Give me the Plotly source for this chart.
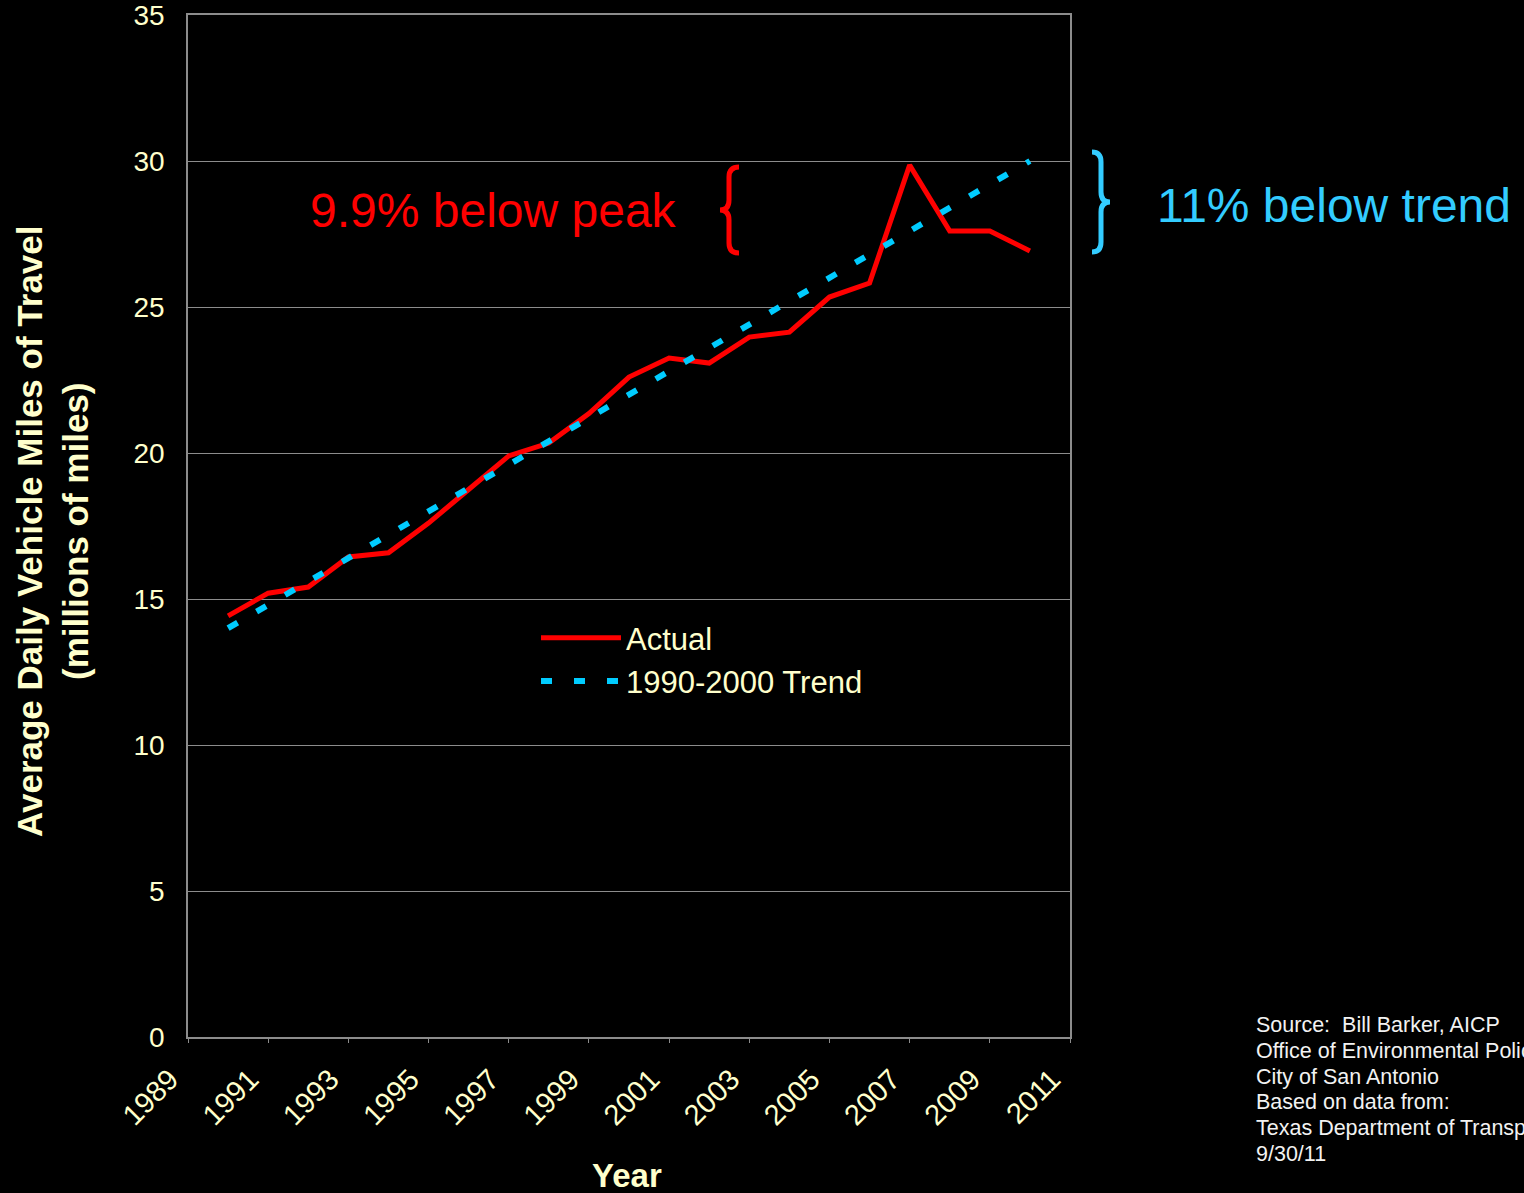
import plotly.graph_objects as go

# ---- data ----
years = list(range(1990, 2011))
actual = [14.42, 15.20, 15.41, 16.44, 16.58, 17.60, 18.75, 19.90, 20.34, 21.35,
          22.60, 23.25, 23.08, 23.97, 24.14, 25.34, 25.82, 29.86, 27.60, 27.60, 26.92]
trend = [14.0, 14.8, 15.6, 16.4, 17.2, 18.0, 18.8, 19.6, 20.4, 21.2,
         22.0, 22.8, 23.6, 24.4, 25.2, 26.0, 26.8, 27.6, 28.4, 29.2, 30.0]
x_tick_years = list(range(1989, 2012, 2))
y_ticks = [0, 5, 10, 15, 20, 25, 30, 35]
source_lines = ["Source:  Bill Barker, AICP", "Office of Environmental Policy",
                "City of San Antonio", "Based on data from:",
                "Texas Department of Transportation", "9/30/11"]

# ---- layout geometry (pixels) ----
W, H = 1524, 1193
L, R, T, B = 188, 1070, 15, 1037


def px(x):
    return (x - L) / (R - L)


def py(y):
    return (B - y) / (B - T)


CREAM = "#FFFFCC"
RED = "#FF0000"
CYAN = "#00CCFF"
CYAN_TXT = "#33CCFF"
GRID = "#8C8C8C"
FONT = "Liberation Sans, Arial, sans-serif"

fig = go.Figure()
fig.add_trace(go.Scatter(x=years, y=actual, mode="lines", name="Actual",
                         line=dict(color=RED, width=5)))
fig.add_trace(go.Scatter(x=years, y=trend, mode="lines", name="1990-2000 Trend",
                         line=dict(color=CYAN, width=6, dash="11px,22px")))

BRACE = ("M {a},{y0} Q {b},{y0} {b},{y1} L {b},{y2} Q {b},{ym} {c},{ym} "
         "Q {b},{ym} {b},{y3} L {b},{y4} Q {b},{y5} {a},{y5}")
red_path = BRACE.format(
    a=px(739), b=px(729), c=px(720),
    y0=py(167), y1=py(177), y2=py(200), ym=py(210), y3=py(220), y4=py(243), y5=py(253))
cyan_path = BRACE.format(
    a=px(1092), b=px(1101), c=px(1110),
    y0=py(152), y1=py(162), y2=py(192), ym=py(202), y3=py(212), y4=py(242), y5=py(252))

shapes = [
    dict(type="path", xref="paper", yref="paper", path=red_path,
         line=dict(color=RED, width=5)),
    dict(type="path", xref="paper", yref="paper", path=cyan_path,
         line=dict(color=CYAN_TXT, width=5)),
]

annotations = [
    dict(text="9.9% below peak", x=px(493), y=py(210), xref="paper", yref="paper",
         showarrow=False, xanchor="center", yanchor="middle",
         font=dict(family=FONT, size=48, color=RED)),
    dict(text="11% below trend", x=px(1155), y=py(205), xref="paper", yref="paper",
         showarrow=False, xanchor="left", yanchor="middle",
         font=dict(family=FONT, size=48, color=CYAN_TXT)),
    dict(text="<b>Average Daily Vehicle Miles of Travel</b><br><b>(millions of miles)</b>",
         x=px(52), y=py(531), xref="paper", yref="paper", textangle=-90,
         showarrow=False, xanchor="center", yanchor="middle",
         font=dict(family=FONT, size=35, color=CREAM)),
    dict(text="<b>Year</b>", x=px(627), y=py(1175), xref="paper", yref="paper",
         showarrow=False, xanchor="center", yanchor="middle",
         font=dict(family=FONT, size=33, color=CREAM)),
]
for i, line in enumerate(source_lines):
    annotations.append(
        dict(text=line, x=px(1254), y=py(1025 + 25.8 * i), xref="paper", yref="paper",
             showarrow=False, xanchor="left", yanchor="middle", align="left",
             font=dict(family=FONT, size=21.5, color="#F2F2F2")))

fig.update_layout(
    width=W, height=H,
    margin=dict(l=L, r=W - R, t=T, b=H - B, pad=0),
    paper_bgcolor="black", plot_bgcolor="black",
    font=dict(family=FONT, color=CREAM),
    showlegend=True,
    legend=dict(x=px(536), y=py(611), xanchor="left", yanchor="top",
                bgcolor="rgba(0,0,0,0)", font=dict(family=FONT, size=31, color=CREAM),
                itemwidth=80, tracegroupgap=0),
    shapes=shapes,
    annotations=annotations,
    xaxis=dict(range=[1989, 2011], tickmode="array", tickvals=x_tick_years,
               ticktext=[str(v) for v in x_tick_years], tickangle=-45,
               tickfont=dict(family=FONT, size=29, color=CREAM),
               showgrid=False, zeroline=False, showline=True, mirror=True,
               linecolor=GRID, linewidth=1.5, ticks="outside", ticklen=4,
               tickcolor=GRID, ticklabelshift=-18, ticklabelstandoff=8,
               automargin=False),
    yaxis=dict(range=[0, 35], tickmode="array", tickvals=y_ticks,
               tickfont=dict(family=FONT, size=28, color=CREAM),
               showgrid=True, gridcolor=GRID, gridwidth=1.2, zeroline=False,
               showline=True, mirror=True, linecolor=GRID, linewidth=1.5,
               ticks="", ticklabelstandoff=16, ticklabeloverflow="allow",
               automargin=False),
)

fig.write_html("out.html",
               config={"displayModeBar": False},
               post_script="document.body.style.margin='0';"
                           "document.body.style.background='black';")
